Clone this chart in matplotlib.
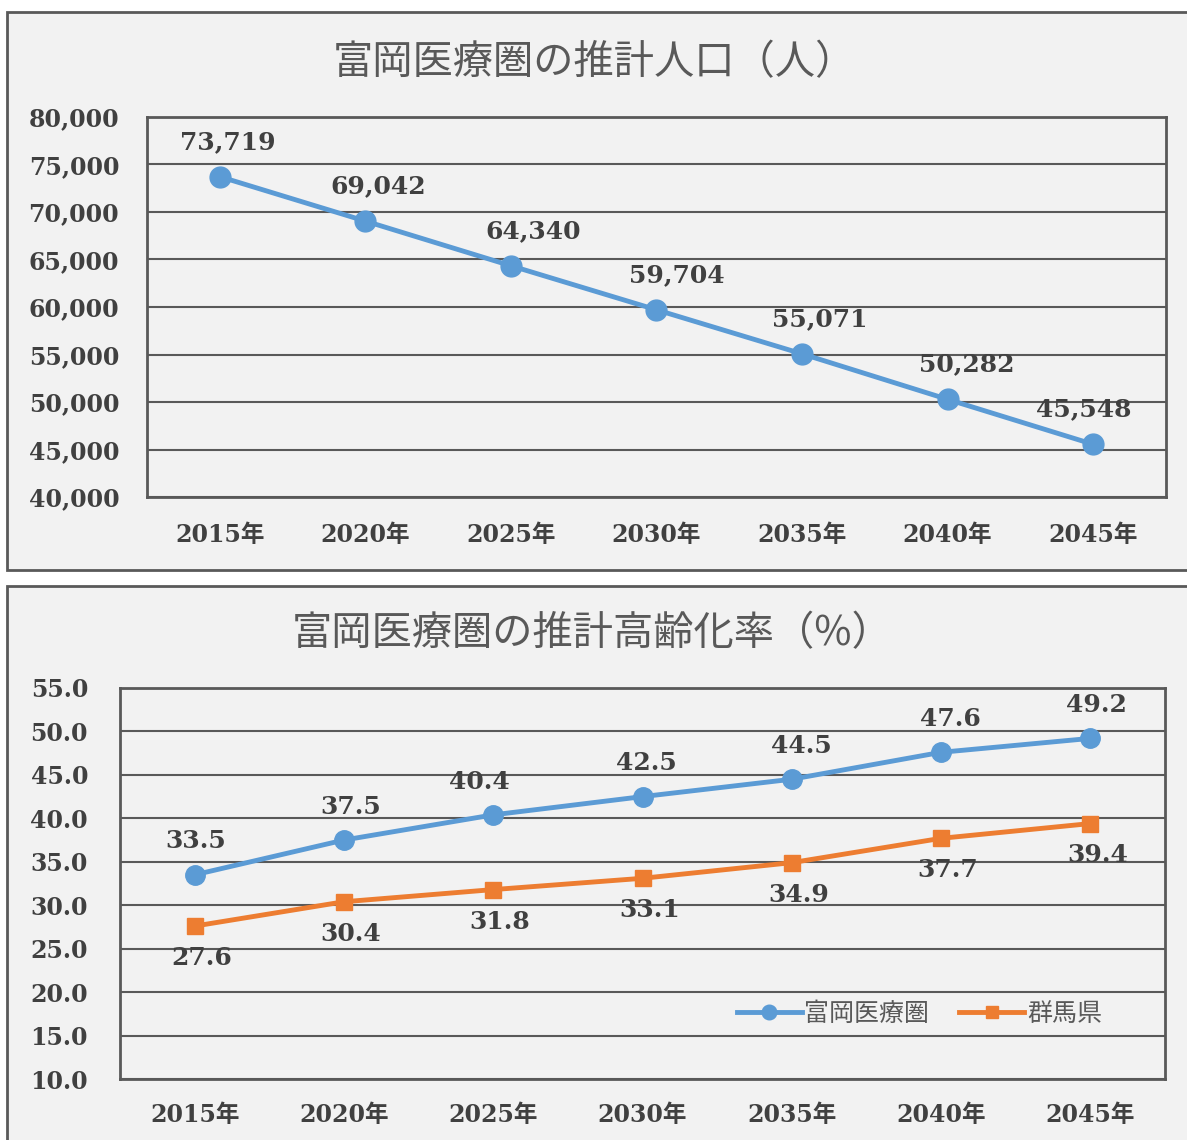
import matplotlib.pyplot as plt
from matplotlib.patches import Rectangle

years = ["2015年", "2020年", "2025年", "2030年", "2035年", "2040年", "2045年"]
population = [73719, 69042, 64340, 59704, 55071, 50282, 45548]
aging_tomioka = [33.5, 37.5, 40.4, 42.5, 44.5, 47.6, 49.2]
aging_gunma = [27.6, 30.4, 31.8, 33.1, 34.9, 37.7, 39.4]

BG = "#f2f2f2"
EDGE = "#595959"
TXT = "#404040"
BLUE = "#5b9bd5"
ORANGE = "#ed7d31"
NUM_FONT = ["DejaVu Serif", "Noto Sans CJK JP"]
JP_FONT = ["Noto Sans CJK JP", "DejaVu Sans"]

fig = plt.figure(figsize=(11.87, 11.40), dpi=100)
fig.patch.set_facecolor("white")

# panel backgrounds
fig.patches.append(Rectangle((0.0059, 0.5), 1.1, 0.4895, transform=fig.transFigure,
                             facecolor=BG, edgecolor=EDGE, linewidth=2, zorder=-10))
fig.patches.append(Rectangle((0.0059, -0.1), 1.1, 0.586, transform=fig.transFigure,
                             facecolor=BG, edgecolor=EDGE, linewidth=2, zorder=-10))


def style_axes(ax, ypad, xpad):
    ax.set_facecolor(BG)
    for s in ax.spines.values():
        s.set_color(EDGE)
        s.set_linewidth(2)
    ax.grid(axis="y", color=EDGE, linewidth=1.5)
    ax.set_axisbelow(True)
    ax.tick_params(length=0, colors=TXT)
    ax.tick_params(axis="y", pad=ypad)
    ax.tick_params(axis="x", pad=xpad)
    for lab in ax.get_xticklabels() + ax.get_yticklabels():
        lab.set_fontfamily(NUM_FONT)
        lab.set_fontsize(17)
        lab.set_fontweight("bold")
        lab.set_color(TXT)


# --- top: population ---
ax1 = fig.add_axes([0.1238, 0.5640, 0.8585, 0.3334])
x = range(len(years))
ax1.plot(x, population, color=BLUE, linewidth=3.5, marker="o", markersize=15, zorder=3)
ax1.set_xlim(-0.5, len(years) - 0.5)
ax1.set_ylim(40000, 80000)
ax1.set_yticks(range(40000, 80001, 5000))
ax1.set_yticklabels([f"{v:,}" for v in range(40000, 80001, 5000)])
ax1.set_xticks(list(x))
ax1.set_xticklabels(years)
style_axes(ax1, ypad=20, xpad=19)
pop_dx = [6, 9, 16, 15, 13, 14, -7]
for i, v in enumerate(population):
    ax1.annotate(f"{v:,}", (i, v), xytext=(pop_dx[i], 25), textcoords="offset points",
                 ha="center", va="center", fontsize=18, fontweight="bold",
                 family=NUM_FONT, color=TXT)
fig.text(0.501, 0.945, "富岡医療圏の推計人口（人）", ha="center", va="center",
         fontsize=29, family=JP_FONT, color=EDGE)

# --- bottom: aging rate ---
ax2 = fig.add_axes([0.1011, 0.0535, 0.8804, 0.3430])
ax2.plot(x, aging_tomioka, color=BLUE, linewidth=3.5, marker="o", markersize=14,
         label="富岡医療圏", zorder=3)
ax2.plot(x, aging_gunma, color=ORANGE, linewidth=3.5, marker="s", markersize=11,
         label="群馬県", zorder=3)
ax2.set_xlim(-0.5, len(years) - 0.5)
ax2.set_ylim(10, 55)
ax2.set_yticks([10 + 5 * k for k in range(10)])
ax2.set_yticklabels([f"{10 + 5 * k:.1f}" for k in range(10)])
ax2.set_xticks(list(x))
ax2.set_xticklabels(years)
style_axes(ax2, ypad=23, xpad=17)
blue_dx = [1, 5, -10, 3, 7, 7, 4]
for i, v in enumerate(aging_tomioka):
    ax2.annotate(f"{v:.1f}", (i, v), xytext=(blue_dx[i], 24), textcoords="offset points",
                 ha="center", va="center", fontsize=18, fontweight="bold",
                 family=NUM_FONT, color=TXT)
for i, v in enumerate(aging_gunma):
    ax2.annotate(f"{v:.1f}", (i, v), xytext=(5, -23), textcoords="offset points",
                 ha="center", va="center", fontsize=18, fontweight="bold",
                 family=NUM_FONT, color=TXT)
leg = ax2.legend(loc="center", bbox_to_anchor=(0.765, 0.166), ncol=2, frameon=False,
                 prop={"family": JP_FONT, "size": 18}, handlelength=2.6,
                 handletextpad=0.1, columnspacing=1.2, markerscale=0.75)
for t in leg.get_texts():
    t.set_color(EDGE)
fig.text(0.499, 0.444, "富岡医療圏の推計高齢化率（%）", ha="center", va="center",
         fontsize=29, family=JP_FONT, color=EDGE)

fig.savefig("out.png", dpi=100)
